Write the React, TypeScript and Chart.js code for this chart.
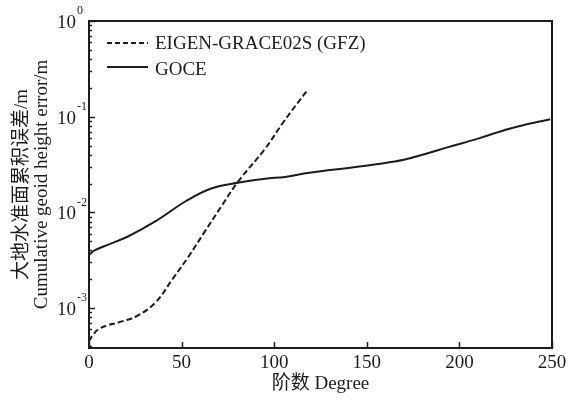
import React, { useEffect, useRef } from 'react';
import { Chart, registerables } from 'chart.js';

Chart.register(...registerables);

// ---- data ----
const seriesNames = ['EIGEN-GRACE02S (GFZ)', 'GOCE'];
const eigenDeg = [0, 2, 5, 10, 16, 26, 36, 45, 53.5, 62.5, 72, 80.5, 95, 105, 118];
const eigenVal = [4.5e-4, 5.2e-4, 6.0e-4, 6.6e-4, 7.1e-4, 8.3e-4, 1.15e-3, 2.0e-3, 3.4e-3, 6.3e-3, 1.2e-2, 2.1e-2, 4.6e-2, 8.8e-2, 1.9e-1];
const goceDeg = [0, 3, 9, 21, 36, 52, 66, 81, 95, 106, 119, 142, 156, 170, 182, 193, 210, 227, 249];
const goceVal = [3.6e-3, 4.0e-3, 4.5e-3, 5.6e-3, 8.1e-3, 1.3e-2, 1.78e-2, 2.05e-2, 2.25e-2, 2.35e-2, 2.6e-2, 2.95e-2, 3.2e-2, 3.55e-2, 4.1e-2, 4.75e-2, 5.9e-2, 7.5e-2, 9.4e-2];
const xTicks = [0, 50, 100, 150, 200, 250];
const yDecades = [1, 0.1, 0.01, 0.001];
const yExponents = ['0', '-1', '-2', '-3'];
const yTitle = ['大地水准面累积误差/m', 'Cumulative geoid height error/m'];
const xTitle = '阶数 Degree';

const FONT = "'Liberation Serif', 'Noto Sans CJK SC', serif";
const INK = '#1c1c1c';

const decor = {
  id: 'decor',
  afterDatasetsDraw(chart: any) {
    const { ctx, chartArea: a, scales } = chart;
    const xs = scales.x;
    const ys = scales.y;
    ctx.save();
    ctx.strokeStyle = INK;
    ctx.fillStyle = INK;
    // frame
    ctx.lineWidth = 2;
    ctx.strokeRect(a.left, a.top, a.right - a.left, a.bottom - a.top);
    // x ticks (inward)
    ctx.lineWidth = 1.5;
    ctx.beginPath();
    for (const t of xTicks) {
      const px = Math.round(xs.getPixelForValue(t)) + 0.5;
      ctx.moveTo(px, a.bottom);
      ctx.lineTo(px, a.bottom - 6);
    }
    // y ticks (inward), major + minor
    for (let e = -4; e <= 0; e++) {
      for (let k = 1; k <= 9; k++) {
        const v = k * Math.pow(10, e);
        if (v < ys.min * 0.999 || v > ys.max * 1.001) continue;
        const py = Math.round(ys.getPixelForValue(v)) + 0.5;
        ctx.moveTo(a.left, py);
        ctx.lineTo(a.left + (k === 1 ? 6 : 3), py);
      }
    }
    ctx.stroke();
    // y tick labels 10^n
    ctx.textBaseline = 'middle';
    yDecades.forEach((d, i) => {
      const py = ys.getPixelForValue(d);
      ctx.font = `19px ${FONT}`;
      ctx.textAlign = 'right';
      ctx.fillText('10', 76, py + 2);
      ctx.font = `12px ${FONT}`;
      ctx.textAlign = 'left';
      ctx.fillText(yExponents[i], 77, py - 10);
    });
    // legend inside plot
    const lx0 = a.left + 18;
    const lx1 = lx0 + 41;
    const rows = [a.top + 22, a.top + 46];
    const dashes = [[5, 3], []];
    rows.forEach((ry, i) => {
      ctx.lineWidth = 2;
      ctx.setLineDash(dashes[i]);
      ctx.beginPath();
      ctx.moveTo(lx0, ry);
      ctx.lineTo(lx1, ry);
      ctx.stroke();
      ctx.setLineDash([]);
      ctx.font = `19px ${FONT}`;
      ctx.textAlign = 'left';
      ctx.fillText(seriesNames[i], lx1 + 7, ry + (i === 0 ? 1 : 3));
    });
    ctx.restore();
  },
};

export default function App() {
  const ref = useRef<HTMLCanvasElement>(null);
  useEffect(() => {
    const canvas = ref.current;
    if (!canvas) return;
    const chart = new Chart(canvas, {
      type: 'line',
      data: {
        datasets: [
          {
            label: seriesNames[0],
            data: eigenDeg.map((d, i) => ({ x: d, y: eigenVal[i] })),
            borderColor: INK,
            borderWidth: 2,
            borderDash: [6, 3],
            pointRadius: 0,
            fill: false,
            tension: 0.4,
          },
          {
            label: seriesNames[1],
            data: goceDeg.map((d, i) => ({ x: d, y: goceVal[i] })),
            borderColor: INK,
            borderWidth: 2,
            pointRadius: 0,
            fill: false,
            tension: 0.4,
          },
        ],
      },
      options: {
        animation: false,
        responsive: false,
        maintainAspectRatio: false,
        devicePixelRatio: 1,
        layout: { padding: { left: 0, top: 21, right: 30, bottom: 0 } },
        plugins: { legend: { display: false }, tooltip: { enabled: false } },
        scales: {
          x: {
            type: 'linear',
            position: 'bottom',
            min: 0,
            max: 250,
            grid: { display: false, drawTicks: false },
            border: { display: false },
            ticks: {
              stepSize: 50,
              padding: 4,
              color: INK,
              font: { family: FONT, size: 19 },
            },
            title: {
              display: true,
              text: xTitle,
              color: INK,
              font: { family: FONT, size: 19, lineHeight: '22px' },
              padding: { top: 0, bottom: 7 },
            },
            afterFit: (s: any) => {
              s.height = 54;
            },
          },
          y: {
            type: 'logarithmic',
            position: 'left',
            min: 3.83e-4,
            max: 1,
            grid: { display: false, drawTicks: false },
            border: { display: false },
            ticks: { display: false },
            title: {
              display: true,
              text: yTitle,
              color: INK,
              font: { family: FONT, size: 19, lineHeight: '20px' },
              padding: { top: 12, bottom: 0 },
            },
            afterFit: (s: any) => {
              s.width = 89;
            },
          },
        },
      },
      plugins: [decor],
    } as any);
    return () => chart.destroy();
  }, []);
  return (
    <div style={{ position: 'absolute', left: 0, top: 0, width: 582, height: 402, background: '#fff' }}>
      <canvas ref={ref} width={582} height={402} style={{ display: 'block' }} />
    </div>
  );
}
